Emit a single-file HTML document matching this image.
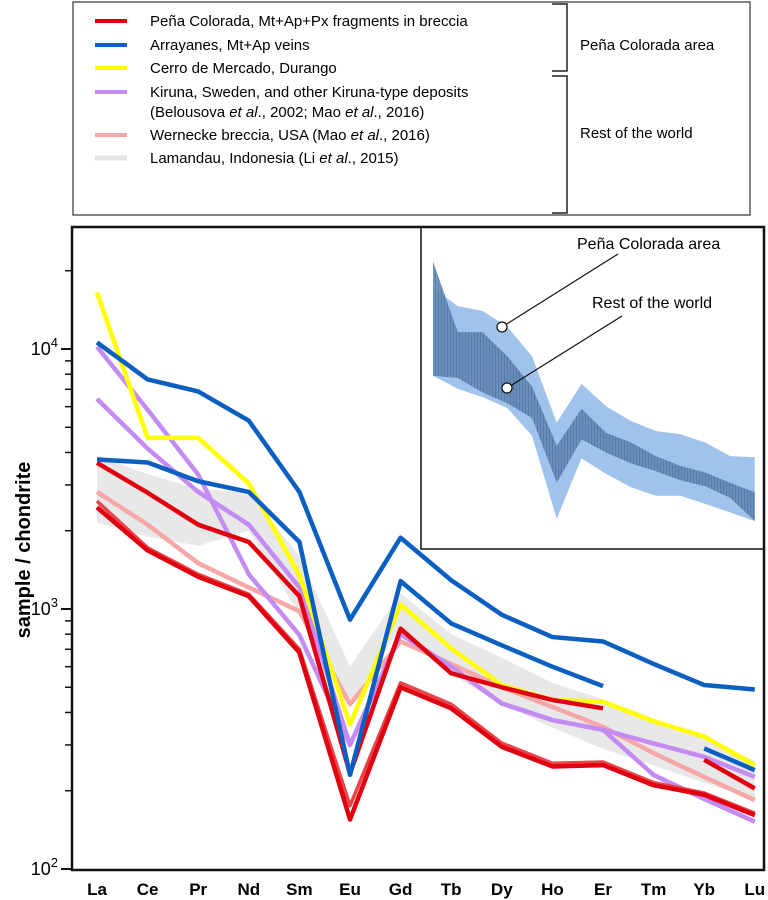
<!DOCTYPE html>
<html><head><meta charset="utf-8"><style>
body{margin:0;background:#fff;}
svg{display:block;font-family:"Liberation Sans",sans-serif;}
</style></head><body>
<svg id="fig" width="768" height="900" viewBox="0 0 768 900" xmlns="http://www.w3.org/2000/svg">
<defs>
<pattern id="stripes" width="3" height="10" patternUnits="userSpaceOnUse">
<rect width="3" height="10" fill="#6389b8"/><rect width="1" height="10" fill="#4f72a0"/>
</pattern>
</defs>
<g id="legend">
<rect x="73" y="2" width="677" height="213" fill="#fff" stroke="#333" stroke-width="1.2"/>
<line x1="95" y1="21" x2="127" y2="21" stroke="#e0000f" stroke-width="4"/>
<text x="150" y="26" font-size="15">Peña Colorada, Mt+Ap+Px fragments in breccia</text>
<line x1="95" y1="45" x2="127" y2="45" stroke="#0a5fc0" stroke-width="4"/>
<text x="150" y="50" font-size="15">Arrayanes, Mt+Ap veins</text>
<line x1="95" y1="68" x2="127" y2="68" stroke="#ffff00" stroke-width="4"/>
<text x="150" y="73" font-size="15">Cerro de Mercado, Durango</text>
<line x1="95" y1="92" x2="127" y2="92" stroke="#c48cf2" stroke-width="4"/>
<text x="150" y="97" font-size="15">Kiruna, Sweden, and other Kiruna-type deposits</text>
<text x="150" y="117" font-size="15">(Belousova <tspan font-style="italic">et al</tspan>., 2002; Mao <tspan font-style="italic">et al</tspan>., 2016)</text>
<line x1="95" y1="135" x2="127" y2="135" stroke="#f6a8a8" stroke-width="4"/>
<text x="150" y="140" font-size="15">Wernecke breccia, USA (Mao <tspan font-style="italic">et al</tspan>., 2016)</text>
<line x1="95" y1="158" x2="127" y2="158" stroke="#e3e3e3" stroke-width="5"/>
<text x="150" y="163" font-size="15">Lamandau, Indonesia (Li <tspan font-style="italic">et al</tspan>., 2015)</text>
<path d="M552 4 H567 V71 H552" fill="none" stroke="#222" stroke-width="1.5"/>
<path d="M552 76 H567 V213 H552" fill="none" stroke="#222" stroke-width="1.5"/>
<text x="580" y="50" font-size="15">Peña Colorada area</text>
<text x="580" y="138" font-size="15">Rest of the world</text>
</g>
<g id="plot"></g>
<rect x="72" y="227" width="692" height="643" fill="none" stroke="#111" stroke-width="2.5"/>
<text transform="translate(30,550) rotate(-90)" text-anchor="middle" font-size="20" font-weight="bold">sample / chondrite</text>
</svg>
<script>
const elements = ["La","Ce","Pr","Nd","Sm","Eu","Gd","Tb","Dy","Ho","Er","Tm","Yb","Lu"];
const yTickExps = [2,3,4];
const arrayanes1 = [10600,7640,6870,5300,2820,910,1880,1290,950,780,750,615,510,490];
const arrayanes2 = [3760,3660,3100,2820,1810,230,1280,880,725,600,505,null,null,null];
const arrayanes3 = [null,null,null,null,null,null,null,null,null,null,null,null,291,240];
const cerro = [16500,4550,4550,3040,1350,360,1040,705,510,447,440,370,323,251];
const kiruna1 = [10200,5840,3290,1360,795,300,800,600,433,374,343,304,270,226];
const kiruna2 = [6430,4140,2820,2110,1210,300,800,600,433,374,343,230,186,152];
const wernecke = [2820,2110,1500,1210,980,430,750,615,500,420,352,279,226,184];
const pena1 = [3650,2800,2110,1810,1120,233,840,566,500,447,415,null,null,null];
const pena2 = [null,null,null,null,null,null,null,null,null,null,null,null,263,204];
const pena3 = [2460,1680,1330,1120,680,155,500,415,295,248,251,210,193,161];
const pena4 = [2600,1720,1360,1140,700,175,520,430,305,255,258,215,196,164];
const lamUpper = [3900,3300,2900,2800,1600,600,1150,800,650,520,450,380,320,260];
const lamLower = [2150,1900,1750,2000,950,430,850,560,430,350,290,250,215,185];
const insetPenaUpper = [12600,8900,8100,6000,3400,950,2000,1300,980,810,760,650,500,490];
const insetPenaLower = [2340,1820,1550,1260,740,150,480,355,275,234,234,200,170,144];
const insetRestUpper = [21000,5400,5400,3400,1900,610,1240,780,650,500,415,365,300,250];
const insetRestLower = [2340,2240,1700,1380,1040,300,690,535,435,375,315,280,225,144];

const NS="http://www.w3.org/2000/svg";
const plot=document.getElementById('plot');
const X=i=>97+50.6*i;
const Y=v=>869-260*(Math.log10(v)-2);
const IX=i=>433+24.75*i;
const IY=v=>240+120*(4.5-Math.log10(v));
function mk(tag,attrs,parent){const e=document.createElementNS(NS,tag);for(const k in attrs)e.setAttribute(k,attrs[k]);(parent||plot).appendChild(e);return e;}
function band(up,lo,fx,fy){let p=up.map((v,i)=>fx(i)+','+fy(v));for(let i=lo.length-1;i>=0;i--)p.push(fx(i)+','+fy(lo[i]));return p.join(' ');}
function line(arr,color,name,w){const pts=[];arr.forEach((v,i)=>{if(v!=null)pts.push(X(i)+','+Y(v));});
 const e=mk('polyline',{points:pts.join(' '),fill:'none',stroke:color,'stroke-width':w||4.5,'stroke-linejoin':'round'});
 
 }
const b=mk('polygon',{points:band(lamUpper,lamLower,X,Y),fill:'#e4e4e4','fill-opacity':0.85});


line(wernecke,'#f6a8a8','wernecke-line');
line(kiruna1,'#c48cf2','kiruna-line-1');
line(kiruna2,'#c48cf2','kiruna-line-2');
line(cerro,'#ffff00','cerro-line');
line(pena4,'#e8444a','pena-line-4',3.5);
line(pena3,'#e0000f','pena-line-3');
line(pena1,'#e0000f','pena-line-1');
line(pena2,'#e0000f','pena-line-2');
line(arrayanes2,'#0a5fc0','arrayanes-line-2');
line(arrayanes1,'#0a5fc0','arrayanes-line-1');
line(arrayanes3,'#0a5fc0','arrayanes-line-3');
yTickExps.forEach(e=>{
 const y=Y(Math.pow(10,e));
 const t=mk('line',{x1:61,y1:y,x2:72,y2:y,stroke:'#111','stroke-width':2});
 
 
 const tx=mk('text',{x:58,y:y+6,'text-anchor':'end','font-size':18});
 
 
 tx.appendChild(document.createTextNode('10'));
 const s=mk('tspan',{dy:-8,'font-size':13},tx);s.textContent=e;
 for(let m=2;m<=9;m++){const v=m*Math.pow(10,e);const yy=Y(v);if(yy<230)continue;
  const mt=mk('line',{x1:65,y1:yy,x2:72,y2:yy,stroke:'#111','stroke-width':1.5});
  
  }
});
elements.forEach((el,i)=>{
 const t=mk('text',{x:X(i),y:895,'text-anchor':'middle','font-size':17,'font-weight':'bold'});
 
 
 t.textContent=el;});
const ib=mk('rect',{x:421,y:227,width:343,height:322,fill:'#fff',stroke:'#111','stroke-width':1.5});


const ip=mk('polygon',{points:band(insetPenaUpper,insetPenaLower,IX,IY),fill:'#9fc3ea'});


const ir=mk('polygon',{points:band(insetRestUpper,insetRestLower,IX,IY),fill:'url(#stripes)','fill-opacity':0.9});


function callout(cx,cy,lx,ly,tx,ty,txt,name){
 const l=mk('line',{x1:cx,y1:cy,x2:lx,y2:ly,stroke:'#111','stroke-width':1.2});
 
 
 const c=mk('circle',{cx:cx,cy:cy,r:5,fill:'#fff',stroke:'#111','stroke-width':1.2});
 
 
 const t=mk('text',{x:tx,y:ty,'font-size':16});
 
 
 t.textContent=txt;}
callout(502,327,618,254,577,249,'Peña Colorada area','inset-pena');
callout(507,388,622,316,592,308,'Rest of the world','inset-rest');
</script>
</body></html>
